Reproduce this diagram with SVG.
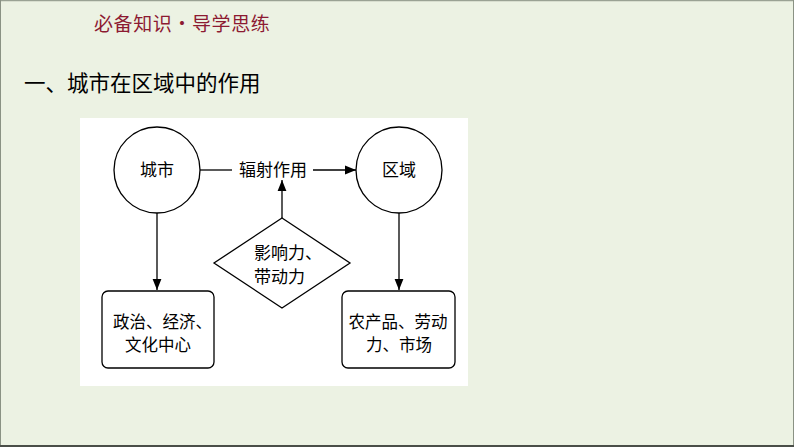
<svg xmlns="http://www.w3.org/2000/svg" width="794" height="447" viewBox="0 0 794 447">
<style>
.t{font-family:"Liberation Serif","Noto Sans CJK SC",serif;fill:#000}
.n{fill:#fff;stroke:#000;stroke-width:1.3}
.c{stroke:#000;stroke-width:1.3;fill:none}
</style>
<defs>
<marker id="ah" viewBox="0 0 10 10" refX="10" refY="5" markerWidth="11" markerHeight="11" markerUnits="userSpaceOnUse" orient="auto">
<path d="M0,1 L10,5 L0,9 Z" fill="#000"/>
</marker>
</defs>
<rect x="0" y="0" width="794" height="447" fill="#ECF2E3"/>
<line x1="0" y1="0.5" x2="794" y2="0.5" stroke="#9AA294" stroke-width="1.5"/>
<line x1="0.5" y1="0" x2="0.5" y2="447" stroke="#8A9284" stroke-width="1"/>
<line x1="793.5" y1="0" x2="793.5" y2="447" stroke="#8A9284" stroke-width="1"/>
<line x1="0" y1="446" x2="794" y2="446" stroke="#4A4E48" stroke-width="2"/>
<text x="94" y="31" font-family="'Noto Sans CJK SC',sans-serif" font-size="19" letter-spacing="0.6" fill="#8C1A32">必备知识・导学思练</text>
<text x="24" y="91" font-family="'Noto Sans CJK SC',sans-serif" font-size="21.5" fill="#000">一、城市在区域中的作用</text>
<rect x="80" y="118" width="388" height="268" fill="#fff"/>
<g id="connectors">
<line class="c" x1="200" y1="170" x2="232" y2="170"/>
<line class="c" x1="313" y1="170" x2="356" y2="170" marker-end="url(#ah)"/>
<line class="c" x1="282" y1="218" x2="282" y2="180" marker-end="url(#ah)"/>
<line class="c" x1="157" y1="213" x2="157" y2="290" marker-end="url(#ah)"/>
<line class="c" x1="399" y1="213" x2="399" y2="290" marker-end="url(#ah)"/>
</g>
<g id="label-radiation">
<text class="t" x="273" y="176" font-size="17" text-anchor="middle">辐射作用</text>
</g>
<g id="city">
<circle class="n" cx="157" cy="170" r="43"/>
<text class="t" x="157" y="176" font-size="17" text-anchor="middle">城市</text>
</g>
<g id="region">
<circle class="n" cx="399" cy="170" r="43"/>
<text class="t" x="399" y="176" font-size="17" text-anchor="middle">区域</text>
</g>
<g id="influence">
<polygon class="n" points="282,218 350,263 282,308 214,263"/>
<text class="t" x="254" y="259" font-size="17">影响力、</text>
<text class="t" x="254" y="283" font-size="17">带动力</text>
</g>
<g id="center">
<rect class="n" x="102" y="291" width="112" height="77" rx="6"/>
<text class="t" x="113" y="328" font-size="16.5">政治、经济、</text>
<text class="t" x="158" y="351" font-size="16.5" text-anchor="middle">文化中心</text>
</g>
<g id="resources">
<rect class="n" x="342" y="291" width="113" height="77" rx="6"/>
<text class="t" x="398" y="328" font-size="16.5" text-anchor="middle">农产品、劳动</text>
<text class="t" x="399" y="351" font-size="16.5" text-anchor="middle">力、市场</text>
</g>
</svg>
